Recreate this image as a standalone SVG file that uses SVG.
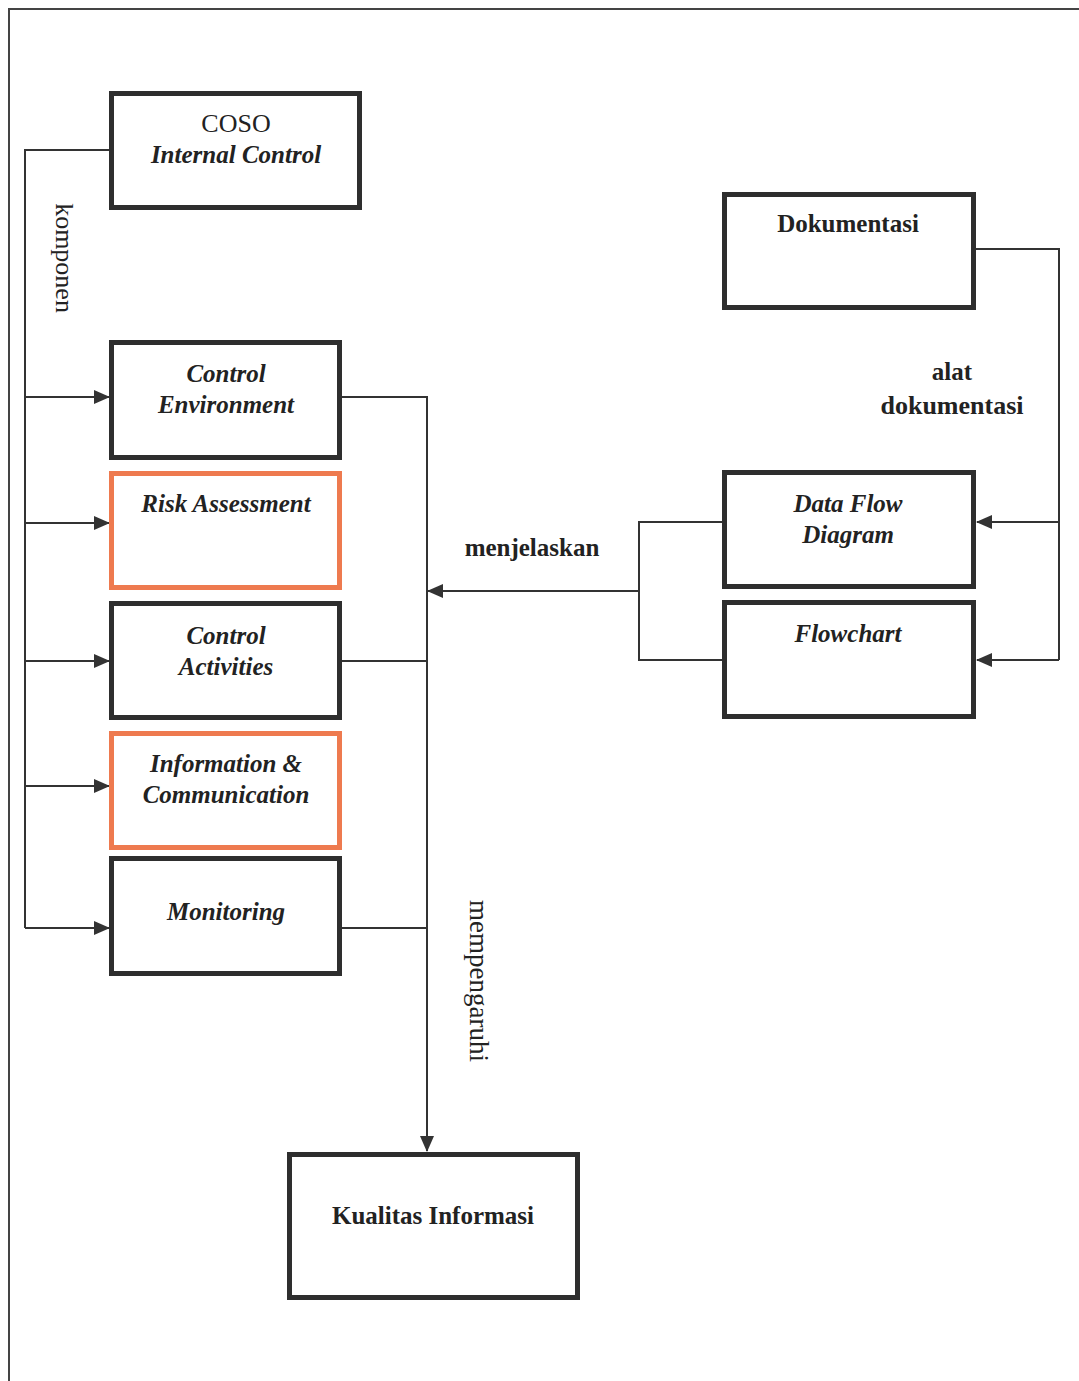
<svg xmlns="http://www.w3.org/2000/svg" width="1079" height="1381" viewBox="0 0 1079 1381">
<style>
.box{fill:#fff;stroke:#2e2e2e;stroke-width:5}
.obox{fill:#fff;stroke:#ee7a4f;stroke-width:5}
.t{font-family:"Liberation Serif","Times New Roman",serif;font-size:25px;font-weight:bold;fill:#222;text-anchor:middle}
.i{font-style:italic}
.c{fill:none;stroke:#333;stroke-width:2}
</style>
<defs>
<marker id="ah" markerWidth="16" markerHeight="14" refX="15" refY="7" orient="auto" markerUnits="userSpaceOnUse">
<path d="M0,0 L16,7 L0,14 Z" fill="#333"/>
</marker>
</defs>
<rect width="1079" height="1381" fill="#fff"/>
<path d="M9,1381 V9 H1079" fill="none" stroke="#444" stroke-width="2"/>
<g id="connectors">
<path class="c" d="M109,150 H25 V928"/>
<path class="c" d="M25,397 H109" marker-end="url(#ah)"/>
<path class="c" d="M25,523 H109" marker-end="url(#ah)"/>
<path class="c" d="M25,661 H109" marker-end="url(#ah)"/>
<path class="c" d="M25,786 H109" marker-end="url(#ah)"/>
<path class="c" d="M25,928 H109" marker-end="url(#ah)"/>
<path class="c" d="M342,397 H427 V1151" marker-end="url(#ah)"/>
<path class="c" d="M342,661 H427"/>
<path class="c" d="M342,928 H427"/>
<path class="c" d="M639,591 H428" marker-end="url(#ah)"/>
<path class="c" d="M722,522 H639 V660 H722"/>
<path class="c" d="M976,249 H1059 V660"/>
<path class="c" d="M1059,522 H977" marker-end="url(#ah)"/>
<path class="c" d="M1059,660 H977" marker-end="url(#ah)"/>
<text class="t" transform="translate(56,258) rotate(90)" style="font-weight:normal;font-size:26px">komponen</text>
<text class="t" x="532" y="556">menjelaskan</text>
<text class="t" x="952" y="380">alat</text>
<text class="t" x="952" y="414" style="font-size:26px">dokumentasi</text>
<text class="t" transform="translate(470,981) rotate(90)" style="font-weight:normal;font-size:27px">mempengaruhi</text>
</g>
<g id="coso"><rect class="box" x="111.5" y="93.5" width="248" height="114"/>
<text class="t" x="236" y="132" style="font-weight:normal;font-size:26px">COSO</text>
<text class="t i" x="236" y="163">Internal Control</text></g>
<g id="control-environment"><rect class="box" x="111.5" y="342.5" width="228" height="115"/>
<text class="t i" x="226" y="382">Control</text>
<text class="t i" x="226" y="413">Environment</text></g>
<g id="risk-assessment"><rect class="obox" x="111.5" y="473.5" width="228" height="114"/>
<text class="t i" x="226" y="512">Risk Assessment</text></g>
<g id="control-activities"><rect class="box" x="111.5" y="603.5" width="228" height="114"/>
<text class="t i" x="226" y="644">Control</text>
<text class="t i" x="226" y="675">Activities</text></g>
<g id="information-communication"><rect class="obox" x="111.5" y="733.5" width="228" height="114"/>
<text class="t i" x="226" y="772">Information &amp;</text>
<text class="t i" x="226" y="803">Communication</text></g>
<g id="monitoring"><rect class="box" x="111.5" y="858.5" width="228" height="115"/>
<text class="t i" x="226" y="920">Monitoring</text></g>
<g id="dokumentasi"><rect class="box" x="724.5" y="194.5" width="249" height="113"/>
<text class="t" x="848" y="232">Dokumentasi</text></g>
<g id="data-flow-diagram"><rect class="box" x="724.5" y="472.5" width="249" height="114"/>
<text class="t i" x="848" y="512">Data Flow</text>
<text class="t i" x="848" y="543">Diagram</text></g>
<g id="flowchart"><rect class="box" x="724.5" y="602.5" width="249" height="114"/>
<text class="t i" x="848" y="642">Flowchart</text></g>
<g id="kualitas-informasi"><rect class="box" x="289.5" y="1154.5" width="288" height="143"/>
<text class="t" x="433" y="1224">Kualitas Informasi</text></g>
</svg>
